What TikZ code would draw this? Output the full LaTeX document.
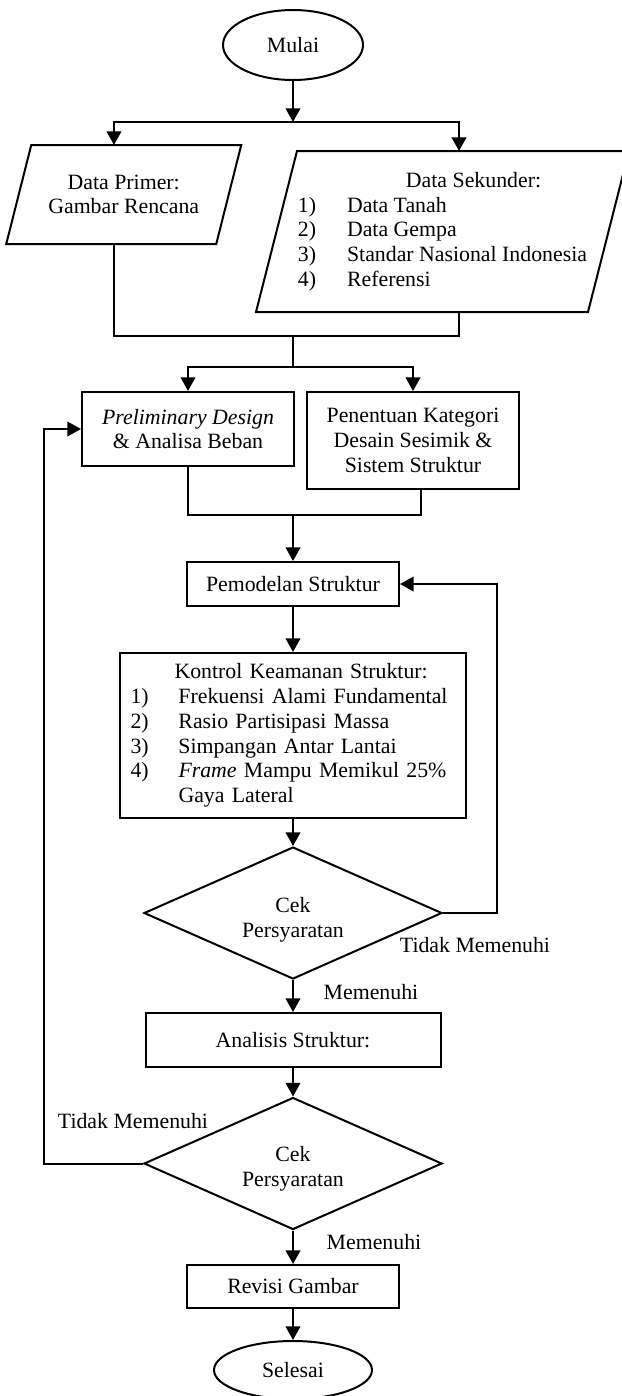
\documentclass[tikz,border=0pt]{standalone}
\usepackage{fontspec}
\setmainfont{Liberation Serif}
\usetikzlibrary{shapes.geometric,arrows.meta,calc}
\newcommand{\fnt}{\fontsize{12}{13.6}\selectfont}
\tikzset{
  every node/.style={font=\fnt, inner sep=0pt},
  proses/.style={draw, rectangle, align=center},
  terminal/.style={draw, ellipse},
  cek/.style={draw, diamond, aspect=2.25, align=center, minimum width=163.9pt, minimum height=72.6pt},
  panah/.style={-{Triangle[length=7.5pt,width=8pt]}}
}

\begin{document}
\begin{tikzpicture}[x=0.55pt, y=-0.55pt, line width=1.1pt]
\useasboundingbox (0,0) rectangle (622,1396);

% nodes
\node[terminal, minimum width=77pt, minimum height=38.5pt] (mulai) at (293,45) {Mulai};
\node[align=center, minimum width=114.4pt, minimum height=53.35pt] (primer) at (123.75,194.5) {Data Primer:\\Gambar Rencana};
\node[align=left, minimum width=181.5pt, minimum height=87.45pt] (sekunder) at (442.5,231.5)
  {\hspace*{59.4pt}Data Sekunder:\\
   \makebox[27pt][l]{1)}Data Tanah\\
   \makebox[27pt][l]{2)}Data Gempa\\
   \makebox[27pt][l]{3)}Standar Nasional Indonesia\\
   \makebox[27pt][l]{4)}Referensi};
\node[proses, minimum width=116.6pt, minimum height=40.7pt] (prelim) at (188,429) {\textit{Preliminary Design}\\\& Analisa Beban};
\node[proses, minimum width=116.6pt, minimum height=53.35pt] (kategori) at (413,440.5) {Penentuan Kategori\\Desain Sesimik \&\\Sistem Struktur};
\node[proses, minimum width=116.6pt, minimum height=24.2pt] (pemodelan) at (293,584) {Pemodelan Struktur};
\node[draw, align=left, inner xsep=6pt, text width=178.75pt, minimum height=90.75pt] (kontrol) at (293,735.5)
  {\hspace*{24.2pt}Kontrol Keamanan Struktur:\\
   \makebox[26.4pt][l]{1)}Frekuensi Alami Fundamental\\
   \makebox[26.4pt][l]{2)}Rasio Partisipasi Massa\\
   \makebox[26.4pt][l]{3)}Simpangan Antar Lantai\\
   \makebox[26.4pt][l]{4)}\textit{Frame} Mampu Memikul 25\%\\
   \hspace*{26.4pt}Gaya Lateral};
\node[cek] (cek1) at (293,913) {\rule{0pt}{16pt}Cek\\Persyaratan};
\node[proses, minimum width=162.25pt, minimum height=29.7pt] (analisis) at (293,1040) {Analisis Struktur:};
\node[cek] (cek2) at (293,1163.5) {\rule{0pt}{14pt}Cek\\Persyaratan};
\node[proses, minimum width=116.6pt, minimum height=23.65pt] (revisi) at (293,1286.5) {Revisi Gambar};
\node[terminal, minimum width=86.9pt, minimum height=31.9pt] (selesai) at (293,1370) {Selesai};

% parallelogram input
\foreach \n/\s in {primer/12.5, sekunder/20.5}
  \draw ($(\n.north west)+(\s,0)$) -- ($(\n.north east)+(\s,0)$) -- ($(\n.south east)+(-\s,0)$) -- ($(\n.south west)+(-\s,0)$) -- cycle;

% labels
\node (tidak1) at (475,945) {Tidak Memenuhi};
\node (ya1) at (371,992) {Memenuhi};
\node (tidak2) at (133,1121) {Tidak Memenuhi};
\node (ya2) at (374,1242) {Memenuhi};

% junctions
\coordinate (cabang1) at (293,122);
\coordinate (gabung1) at (293,336);
\coordinate (cabang2) at (293,367);
\coordinate (gabung2) at (293,515);

% connectors
\draw[panah] (mulai) -- (cabang1);
\draw[panah] (cabang1) -| ($(primer.north)+(-9.75,0)$);
\draw[panah] (cabang1) -| ($(sekunder.north)+(16.5,0)$);
\draw ($(primer.south)+(-9.75,0)$) |- (gabung1) -| ($(sekunder.south)+(16.5,0)$);
\draw (gabung1) -- (cabang2);
\draw[panah] (cabang2) -| (prelim.north);
\draw[panah] (cabang2) -| (kategori.north);
\draw (prelim.south) |- (gabung2) -| ($(kategori.south)+(8,0)$);
\draw[panah] (gabung2) -- (pemodelan.north);
\draw[panah] (pemodelan) -- (kontrol);
\draw[panah] (kontrol) -- (cek1);
\draw[panah] (cek1.east) -- ++(54,0) |- (pemodelan.east);
\draw[panah] (cek1) -- (analisis);
\draw[panah] (analisis) -- (cek2);
\draw[panah] (cek2.west) -- ++(-99,0) |- (prelim.west);
\draw[panah] (cek2) -- (revisi);
\draw[panah] (revisi) -- (selesai);
\end{tikzpicture}
\end{document}
